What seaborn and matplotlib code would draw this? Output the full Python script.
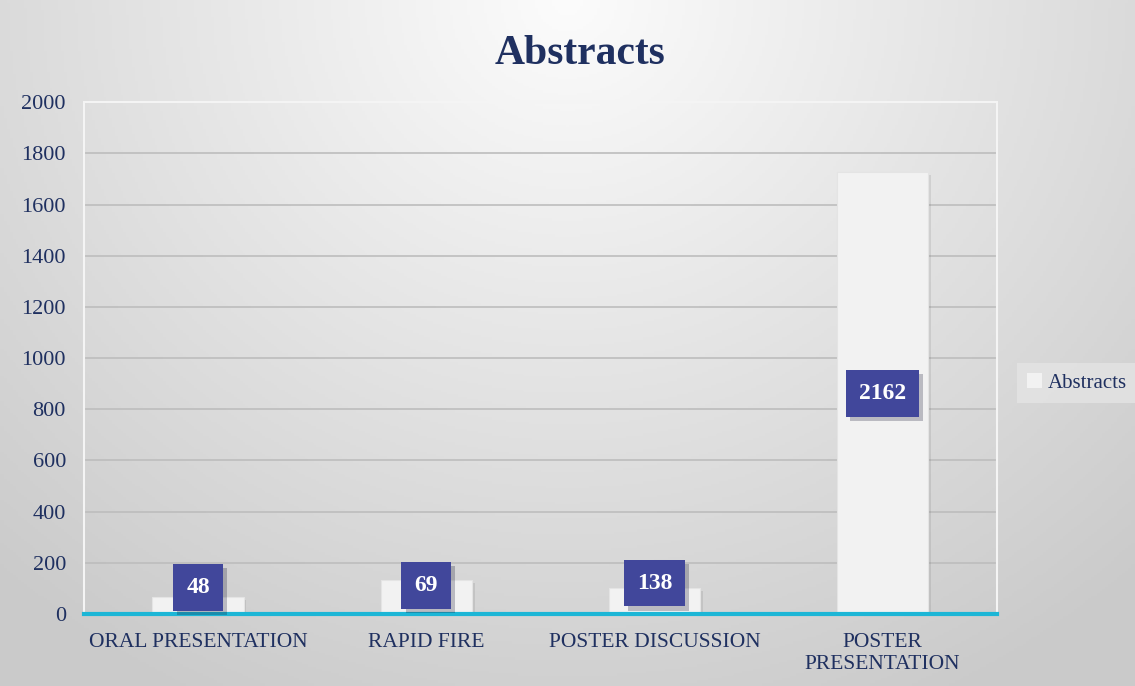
import matplotlib
matplotlib.use("Agg")
import matplotlib.pyplot as plt
import matplotlib.patheffects as pe
from matplotlib.patches import Patch
import numpy as np
import pandas as pd
import seaborn as sns

# data
categories = ["ORAL PRESENTATION", "RAPID FIRE", "POSTER DISCUSSION", "POSTER\nPRESENTATION"]
bar_heights = [66, 133, 102, 1727]      # drawn bar heights (as they appear on the axis)
label_values = [48, 69, 138, 2162]      # data labels shown in the boxes
label_y = [105, 113, 121, 863]          # where the label boxes sit
y_ticks = list(range(0, 2001, 200))

NAVY = "#1f3060"
LABEL_BOX = "#41479b"
CYAN = "#1cb6d6"

sns.set_style("white")
plt.rcParams["font.family"] = ["Liberation Serif", "DejaVu Serif"]

fig = plt.figure(figsize=(11.35, 6.86), dpi=100)

# soft grey radial background, brightest at the top centre
bg = fig.add_axes([0, 0, 1, 1], zorder=-10)
xx, yy = np.meshgrid(np.linspace(0, 1, 400), np.linspace(0, 1, 300))
r = np.sqrt(((xx - 0.5) / 0.75) ** 2 + (yy / 1.15) ** 2)
shade = 252 - 50 * np.clip(r, 0, 1)
bg.imshow(np.dstack([shade, shade, shade]).astype(np.uint8), aspect="auto", extent=[0, 1, 1, 0])
bg.set_axis_off()

ax = fig.add_axes([0.074, 0.105, 0.804, 0.746])
ax.patch.set_alpha(0)

df = pd.DataFrame({"category": categories, "value": bar_heights})
sns.barplot(data=df, x="category", y="value", color="#f2f2f2", width=0.4,
            saturation=1, edgecolor="#e4e4e4", linewidth=0.8, ax=ax, zorder=3)
for bar in ax.patches:
    bar.set_path_effects([pe.SimplePatchShadow(offset=(2, -2), alpha=0.12), pe.Normal()])

for i, (v, y) in enumerate(zip(label_values, label_y)):
    t = ax.text(i, y, str(v), ha="center", va="center", color="white",
                fontsize=17, fontweight="bold", zorder=6,
                bbox=dict(boxstyle="square,pad=0.55", facecolor=LABEL_BOX, edgecolor="none"))
    t.get_bbox_patch().set_path_effects([pe.SimplePatchShadow(offset=(3, -3), alpha=0.25), pe.Normal()])

ax.set_ylim(0, 2000)
ax.set_xlim(-0.5, 3.5)
ax.set_yticks(y_ticks)
ax.yaxis.grid(True, color="#bdbdbd", linewidth=1.2, zorder=0)
ax.set_axisbelow(True)

for side in ["left", "right", "top"]:
    ax.spines[side].set_color("#f4f4f4")
    ax.spines[side].set_linewidth(1.5)
ax.spines["bottom"].set_color(CYAN)
ax.spines["bottom"].set_linewidth(3)
ax.spines["bottom"].set_zorder(5)

ax.set_xticks([-0.5, 0.5, 1.5, 2.5, 3.5], minor=True)
ax.tick_params(axis="x", which="minor", length=6, width=2.5, color=CYAN, direction="out")
ax.tick_params(axis="x", which="major", length=0, pad=14, labelsize=15.5, labelcolor=NAVY)
ax.tick_params(axis="y", length=0, pad=13, labelsize=16, labelcolor=NAVY)
ax.set_xlabel("")
ax.set_ylabel("")

fig.text(0.511, 0.922, "Abstracts", ha="center", va="center", fontsize=30,
         fontweight="bold", color=NAVY)

leg = fig.legend(handles=[Patch(facecolor="#f2f2f2", edgecolor="none", label="Abstracts")],
                 loc="center", bbox_to_anchor=(0.949, 0.442), frameon=True, fontsize=15,
                 handlelength=0.7, handleheight=0.7, handletextpad=0.3, borderpad=0.5,
                 fancybox=False, labelcolor=NAVY)
leg.get_frame().set_facecolor("#e4e4e4")
leg.get_frame().set_edgecolor("none")

fig.savefig("out.png", dpi=100)
